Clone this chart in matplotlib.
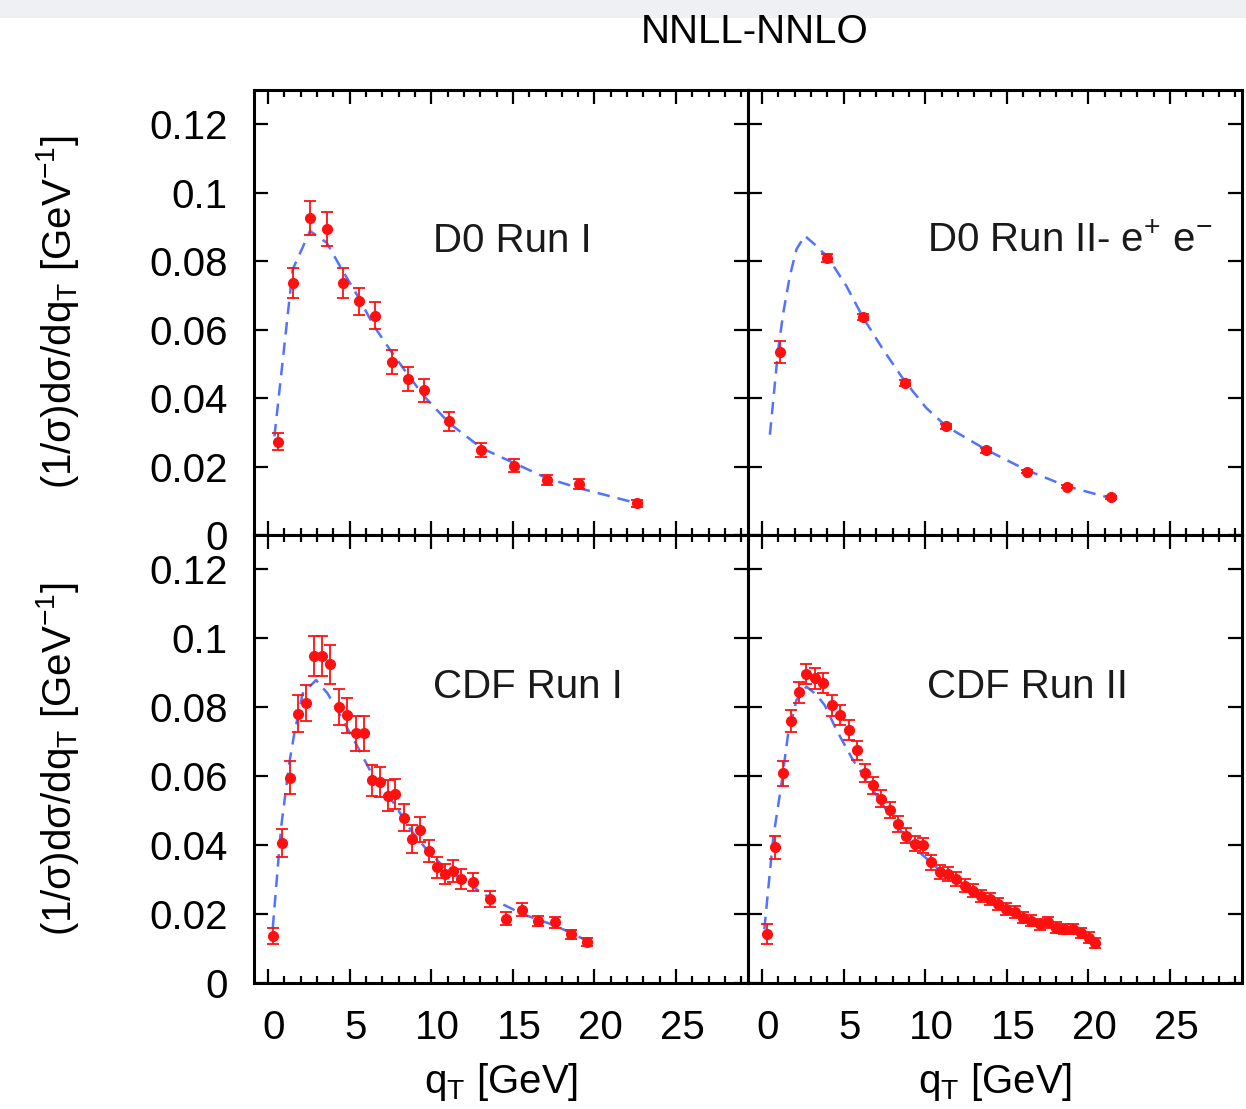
import numpy as np
import matplotlib
matplotlib.use("Agg")
import matplotlib.pyplot as plt
from matplotlib.ticker import MultipleLocator, FormatStrFormatter
from matplotlib.patches import Rectangle
from matplotlib.transforms import ScaledTranslation

plt.rcParams.update({
    "font.family": ["Liberation Sans", "DejaVu Sans"],
    "font.size": 29,
    "mathtext.fontset": "custom",
    "mathtext.rm": "Liberation Sans",
    "mathtext.it": "Liberation Sans:italic",
    "mathtext.default": "regular",
    "axes.linewidth": 2.2,
})

# ---- D0 Run I ----
d0r1_x = [0.6, 1.56, 2.58, 3.6, 4.58, 5.56, 6.57, 7.57, 8.59, 9.57,
          11.1, 13.08, 15.08, 17.08, 19.05, 22.58]
d0r1_y = [0.0273, 0.0737, 0.0927, 0.0893, 0.0737, 0.0683, 0.0641, 0.0505,
          0.0456, 0.0423, 0.0332, 0.0249, 0.0203, 0.0161, 0.0149, 0.0093]
d0r1_err = [0.0025, 0.0044, 0.005, 0.005, 0.0044, 0.004, 0.004, 0.0034,
            0.0034, 0.0033, 0.0027, 0.002, 0.0018, 0.0015, 0.0015, 0.001]
d0r1_th_x = [0.4, 1.52, 2.58, 3.6, 4.48, 5.5, 6.5, 7.54, 8.56, 9.57,
             11.1, 13.08, 15.08, 17.08, 19.05, 22.58]
d0r1_th_y = [0.0288, 0.0776, 0.0888, 0.0854, 0.078, 0.0698, 0.061, 0.0537,
             0.0469, 0.0405, 0.0327, 0.0254, 0.021, 0.0166, 0.0137, 0.0093]

# ---- D0 Run II (e+ e-) ----
d0r2_x = [1.14, 4.0, 6.2, 8.75, 11.3, 13.74, 16.23, 18.7, 21.4]
d0r2_y = [0.0534, 0.081, 0.0637, 0.0444, 0.0317, 0.0247, 0.0185, 0.0141, 0.011]
d0r2_err = [0.0032, 0.0012, 0.001, 0.0008, 0.0007, 0.0006, 0.0005, 0.0005, 0.0005]
d0r2_th_x = [0.49, 0.7, 1.0, 1.31, 1.71, 2.12, 2.63, 3.35, 4.06, 5.18, 6.2,
             7.42, 8.75, 10.07, 11.3, 13.74, 16.19, 18.64, 21.4]
d0r2_th_y = [0.0293, 0.0395, 0.0542, 0.0649, 0.0756, 0.0835, 0.0874, 0.0844,
             0.081, 0.0727, 0.0635, 0.0542, 0.0449, 0.0371, 0.0317, 0.0249,
             0.019, 0.0143, 0.0107]

# ---- CDF Run I ----
cdfr1_x = [0.34, 0.85, 1.34, 1.83, 2.36, 2.85, 3.32, 3.83, 4.37, 4.84, 5.39,
           5.86, 6.35, 6.84, 7.33, 7.8, 8.35, 8.84, 9.33, 9.84, 10.35, 10.84,
           11.31, 11.82, 12.59, 13.59, 14.57, 15.59, 16.57, 17.57, 18.55, 19.57]
cdfr1_y = [0.0137, 0.0406, 0.0596, 0.0782, 0.0813, 0.0949, 0.0949, 0.0925,
           0.0801, 0.0777, 0.0724, 0.0724, 0.0588, 0.0583, 0.0544, 0.0549,
           0.048, 0.0418, 0.0445, 0.0384, 0.0336, 0.0316, 0.0326, 0.0302,
           0.0292, 0.0244, 0.0187, 0.0213, 0.0179, 0.0176, 0.0142, 0.012]
cdfr1_err = [0.0024, 0.0041, 0.0049, 0.0053, 0.0053, 0.0058, 0.0058, 0.0056,
             0.0051, 0.0051, 0.0051, 0.0051, 0.0044, 0.0044, 0.0044, 0.0044,
             0.004, 0.004, 0.0036, 0.0032, 0.003, 0.003, 0.0032, 0.003,
             0.0026, 0.0023, 0.002, 0.002, 0.0015, 0.0015, 0.0013, 0.0012]
cdfr1_th_x = [0.3, 0.81, 1.32, 1.62, 2.13, 2.95, 3.66, 4.48, 5.5, 6.52, 7.74,
              8.76, 9.78, 10.8, 11.82, 13.55, 15.59, 17.63, 19.57]
cdfr1_th_y = [0.016, 0.0452, 0.0641, 0.0724, 0.084, 0.0879, 0.084, 0.0772,
              0.0685, 0.0593, 0.052, 0.0443, 0.0384, 0.0336, 0.0302, 0.0248,
              0.02, 0.0166, 0.0122]

# ---- CDF Run II ----
cdfr2_x = [0.29, 0.8, 1.31, 1.78, 2.26, 2.73, 3.24, 3.76, 4.3, 4.81, 5.32,
           5.83, 6.3, 6.81, 7.32, 7.83, 8.34, 8.85, 9.36, 9.87, 10.38, 10.89,
           11.4, 11.91, 12.42, 12.93, 13.44, 13.95, 14.46, 14.97, 15.47,
           15.99, 16.5, 17.0, 17.52, 18.02, 18.53, 19.04, 19.55, 20.06, 20.37]
cdfr2_y = [0.0142, 0.0394, 0.0608, 0.0761, 0.0843, 0.0897, 0.0884, 0.0871,
           0.0806, 0.0777, 0.0734, 0.0675, 0.0609, 0.0574, 0.0535, 0.0501,
           0.0462, 0.0428, 0.0404, 0.0399, 0.035, 0.0321, 0.0316, 0.0302,
           0.0282, 0.0268, 0.0253, 0.0244, 0.0229, 0.0215, 0.0205, 0.019,
           0.018, 0.0171, 0.0176, 0.0161, 0.0156, 0.0156, 0.0146, 0.0132,
           0.0117]
cdfr2_err = [0.0029, 0.0034, 0.0036, 0.0032, 0.0031, 0.003, 0.003, 0.003,
             0.003, 0.0029, 0.0028, 0.0027, 0.0026, 0.0025, 0.0024, 0.0023,
             0.0023, 0.0022, 0.0022, 0.0021, 0.0021, 0.002, 0.002, 0.002,
             0.0019, 0.0019, 0.0018, 0.0018, 0.0018, 0.0017, 0.0017, 0.0017,
             0.0016, 0.0016, 0.0016, 0.0016, 0.0015, 0.0015, 0.0015, 0.0015,
             0.0015]
cdfr2_th_x = [0.15, 0.7, 1.2, 1.61, 2.12, 2.73, 3.35, 3.85, 4.57, 5.59, 6.61,
              7.63, 8.65, 9.66, 10.68, 11.7, 12.72, 13.74, 14.76, 15.78, 16.8,
              17.82, 18.84, 20.37]
cdfr2_th_y = [0.0156, 0.0423, 0.0578, 0.0724, 0.0821, 0.086, 0.0836, 0.0806,
              0.0734, 0.0646, 0.0574, 0.0501, 0.0433, 0.0379, 0.0336, 0.0307,
              0.0277, 0.0248, 0.0224, 0.02, 0.018, 0.0166, 0.0151, 0.0122]

PANELS = [
    ("D0 Run I", d0r1_x, d0r1_y, d0r1_err, d0r1_th_x, d0r1_th_y),
    ("D0 Run II- e$^{+}$ e$^{-}$", d0r2_x, d0r2_y, d0r2_err, d0r2_th_x, d0r2_th_y),
    ("CDF Run I", cdfr1_x, cdfr1_y, cdfr1_err, cdfr1_th_x, cdfr1_th_y),
    ("CDF Run II", cdfr2_x, cdfr2_y, cdfr2_err, cdfr2_th_x, cdfr2_th_y),
]

W, H = 1246, 1109
fig = plt.figure(figsize=(W / 100, H / 100), dpi=100)

# light strip along the top edge
fig.patches.append(Rectangle((0, 1 - 18 / H), 1, 18 / H, transform=fig.transFigure,
                             facecolor="#eef0f3", edgecolor="none", zorder=0))

col_x = [254 / W, 748 / W]
ax_w = 494 / W
rows = [(1 - 535 / H, 445 / H), (1 - 983 / H, 448 / H)]

ylab = r"(1/$\sigma$)d$\sigma$/dq$_{\rm T}$ [GeV$^{-1}$]"
xshift = ScaledTranslation(6 / 100, 0, fig.dpi_scale_trans)

for i, (name, x, y, e, tx, ty) in enumerate(PANELS):
    r, c = divmod(i, 2)
    ax = fig.add_axes([col_x[c], rows[r][0], ax_w, rows[r][1]])
    ax.plot(tx, ty, color="#5272ff", lw=1.8, dashes=(5, 3.2), zorder=2)
    ax.errorbar(x, y, yerr=e, fmt="o", color="#ff1010", ms=7, mec="#ff1010",
                elinewidth=1.3, capsize=4.5, capthick=1.3, zorder=3)
    ax.text(10.1, 0.086, name, ha="left", va="center", fontsize=29, color="#1a1a1a")

    ax.set_xlim(-0.85, 29.4)
    ax.set_ylim(0, 0.13)
    ax.xaxis.set_major_locator(MultipleLocator(5))
    ax.xaxis.set_minor_locator(MultipleLocator(1))
    ax.set_yticks(np.arange(0, 0.121, 0.02))
    ax.yaxis.set_major_formatter(FormatStrFormatter("%g"))
    ax.tick_params(which="both", direction="in", top=True, right=True,
                   width=1.6, color="black")
    ax.tick_params(which="major", length=10)
    ax.tick_params(which="minor", length=5)
    ax.tick_params(axis="x", pad=19)
    ax.tick_params(axis="y", pad=19)

    if r == 0:
        ax.tick_params(axis="x", labelbottom=False)
    else:
        ax.set_xlabel(r"q$_{\rm T}$ [GeV]", fontsize=29)
        ax.xaxis.set_label_coords(0.5, -0.175)
        for lbl in ax.get_xticklabels():
            lbl.set_transform(lbl.get_transform() + xshift)
    if c == 1:
        ax.tick_params(axis="y", labelleft=False)
    else:
        ax.set_ylabel(ylab, fontsize=29)
        ax.yaxis.set_label_coords(-0.35, 0.5)

fig.text(755 / W, 1 - 32 / H, "NNLL-NNLO", ha="center", va="center", fontsize=29)

fig.savefig("out.png", dpi=100)
